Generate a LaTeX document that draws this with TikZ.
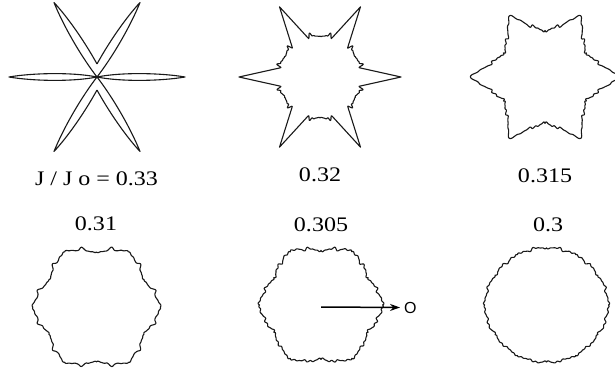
\documentclass[tikz,border=0pt]{standalone}
\usepackage{graphicx}
\usepackage{fontspec}
\setmainfont{Liberation Serif}
\newfontfamily\arrowfont{Liberation Sans}
\usetikzlibrary{arrows.meta}
\tikzset{
  declare function={
    dlt(\t)=abs(mod(\t+30,60)-30);
    sqq(\x)=(\x)*(\x);
    gss(\x)=exp(-(\x)*(\x));
    nz(\d)=0.9*sin(23*\d)+0.7*sin(47*\d+40)+0.5*sin(71*\d+10);
    asy(\t)=0.4*sin(29*\t)+0.3*sin(43*\t+20);
    sline(\d,\p,\q,\s)=\p*\q*sin(\s)/(\p*sin(\d)+\q*sin(\s-\d));
    rb(\t)=max(41/cos(30-dlt(\t))+(0.3+1.6*gss((dlt(\t)-16)/5))*nz(dlt(\t))+0.4*asy(\t), sline(dlt(\t),81,44,11));
    rc(\t)=49-2*sin(\t)*sin(\t)+(22+3*cos(\t)*cos(\t))*sqq(1-dlt(\t)/30)+1.1*nz(dlt(\t))+0.5*asy(\t);
    rd(\t)=55/cos(30-(sqrt(dlt(\t)*dlt(\t)+16)-4))+3.5*gss((dlt(\t)-15)/3)+0.5*nz(dlt(\t))+0.5*asy(\t);
    re(\t)=58+3*cos(6*\t)+1.0*nz(dlt(\t))+0.7*asy(\t);
    rf(\t)=57.5+4*sqq(sqq(cos(\t)))+0.8*nz(dlt(\t))+0.6*asy(\t);
  },
  shp/.style={draw=black!90, line width=1.1pt, line join=round},
  lbl/.style={anchor=base, inner sep=0pt, text=black, font=\fontsize{20.7}{24}\selectfont},
}
\begin{document}
\begin{tikzpicture}[x=1pt, y=1pt]
  \useasboundingbox (0,-371) rectangle (615,0);
  \fill[white] (0,-371) rectangle (615,0);
  \clip (0,-371) rectangle (615,0);

  % J/Jo = 0.33 : thin six-armed star
  \begin{scope}[shift={(97,-77)}]
    \foreach \a in {0,180}{
      \draw[shp, rotate=\a] (0,0) .. controls (25,5) and (65,4) .. (88,0)
                                  .. controls (65,-4) and (25,-5) .. (0,0);
    }
    \foreach \a in {60,240}{
      \draw[shp, rotate=\a] (0,0) .. controls (30,-4) and (65,-3) .. (86,0)
                                  .. controls (64,5) and (34,7) .. (11.3,6.5);
    }
    \foreach \a in {120,300}{
      \draw[shp, rotate=\a, yscale=-1] (0,0) .. controls (30,-4) and (65,-3) .. (86,0)
                                  .. controls (64,5) and (34,7) .. (11.3,6.5);
    }
  \end{scope}

  % 0.32
  \draw[shp] plot[variable=\t, domain=0:360, samples=721]
    ({320+rb(\t)*cos(\t)}, {-77+rb(\t)*sin(\t)}) -- cycle;
  % 0.315
  \draw[shp] plot[variable=\t, domain=0:360, samples=721]
    ({545+rc(\t)*cos(\t)}, {-77+rc(\t)*sin(\t)}) -- cycle;
  % 0.31
  \draw[shp] plot[variable=\t, domain=0:360, samples=721]
    ({96.5+rd(\t)*cos(\t)}, {-307+rd(\t)*sin(\t)}) -- cycle;
  % 0.305
  \draw[shp] plot[variable=\t, domain=0:360, samples=721]
    ({321+re(\t)*cos(\t)}, {-305+re(\t)*sin(\t)}) -- cycle;
  % 0.3
  \draw[shp] plot[variable=\t, domain=0:360, samples=721]
    ({546.5+rf(\t)*cos(\t)}, {-305+rf(\t)*sin(\t)}) -- cycle;

  % labels
  \node[lbl] (l1) at (96.5,-186) {\scalebox{1.16}[1]{J / J o = 0.33}};
  \node[lbl] (l2) at (320,-182) {\scalebox{1.16}[1]{0.32}};
  \node[lbl] (l3) at (545,-183) {\scalebox{1.16}[1]{0.315}};
  \node[lbl] (l4) at (96,-231) {\scalebox{1.16}[1]{0.31}};
  \node[lbl] (l5) at (321,-232) {\scalebox{1.16}[1]{0.305}};
  \node[lbl] (l6) at (548,-232) {\scalebox{1.16}[1]{0.3}};

  % direction arrow
  \coordinate (c5) at (321,-307);
  \node[anchor=west, inner sep=0pt, text=black, font=\arrowfont\fontsize{16}{18}\selectfont] (o) at (404,-307.5) {O};
  \draw[draw=black, line width=1.5pt, -{Stealth[length=10pt,width=7pt]}] (c5) -- ([xshift=-4pt]o.west);
\end{tikzpicture}
\end{document}
